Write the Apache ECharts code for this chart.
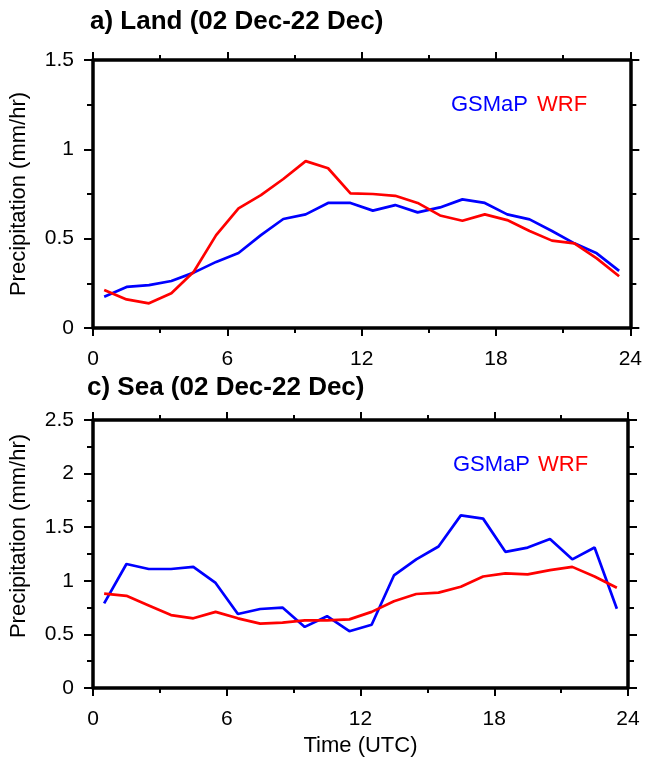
<!DOCTYPE html>
<html><head><meta charset="utf-8">
<script src="https://cdn.jsdelivr.net/npm/echarts@6/dist/echarts.min.js"></script>
<style>html,body{margin:0;padding:0;background:#fff}#c{width:645px;height:767px}</style>
</head><body><div id="c"></div>
<script>
const hours = [0.5,1.5,2.5,3.5,4.5,5.5,6.5,7.5,8.5,9.5,10.5,11.5,12.5,13.5,14.5,15.5,16.5,17.5,18.5,19.5,20.5,21.5,22.5,23.5];
const landGSMaP = [0.175,0.23,0.24,0.263,0.31,0.37,0.42,0.52,0.61,0.636,0.70,0.70,0.657,0.688,0.647,0.675,0.72,0.70,0.636,0.608,0.543,0.474,0.418,0.32];
const landWRF = [0.213,0.16,0.138,0.194,0.315,0.52,0.67,0.744,0.834,0.934,0.894,0.754,0.75,0.74,0.70,0.63,0.60,0.636,0.604,0.543,0.489,0.474,0.39,0.29];
const seaGSMaP = [0.79,1.157,1.11,1.11,1.13,0.98,0.69,0.737,0.75,0.57,0.67,0.53,0.59,1.05,1.20,1.32,1.61,1.58,1.27,1.31,1.39,1.20,1.31,0.74];
const seaWRF = [0.88,0.86,0.77,0.68,0.65,0.71,0.65,0.60,0.61,0.63,0.63,0.64,0.71,0.81,0.877,0.89,0.945,1.04,1.07,1.06,1.10,1.13,1.04,0.935];
const titles = ['a) Land (02 Dec-22 Dec)','c) Sea (02 Dec-22 Dec)'];
const seriesNames = ['GSMaP','WRF'];
const yLabel = 'Precipitation (mm/hr)';
const xLabel = 'Time (UTC)';

const FONT = 'Liberation Sans';
const chart = echarts.init(document.getElementById('c'), null, {renderer:'canvas'});
const axLine = {show:true, onZero:false, lineStyle:{color:'#000', width:3.5}};
const majTick = len => ({show:true, inside:false, length:len, lineStyle:{color:'#000', width:2}});
const minTick = len => ({show:true, splitNumber:2, length:len, lineStyle:{color:'#000', width:2}});
function xAxes(gi, showName){
  return [{
    type:'value', gridIndex:gi, min:0, max:24, interval:6, position:'bottom',
    axisLine:axLine, axisTick:majTick(8), minorTick:minTick(5),
    splitLine:{show:false}, minorSplitLine:{show:false},
    axisLabel:{show:true, fontFamily:FONT, fontSize:21, color:'#000', margin:21},
    name: showName ? xLabel : '', nameLocation:'middle', nameGap:47,
    nameTextStyle:{fontFamily:FONT, fontSize:22, color:'#000'}
  },{
    type:'value', gridIndex:gi, min:0, max:24, interval:6, position:'top',
    axisLine:axLine, axisTick:majTick(8), minorTick:minTick(5),
    splitLine:{show:false}, minorSplitLine:{show:false}, axisLabel:{show:false}
  }];
}
function yAxes(gi, max, pad){
  return [{
    type:'value', gridIndex:gi, min:0, max:max, interval:0.5, position:'left',
    axisLine:axLine, axisTick:majTick(9), minorTick:minTick(6),
    splitLine:{show:false}, minorSplitLine:{show:false},
    axisLabel:{show:true, fontFamily:FONT, fontSize:21, color:'#000', margin:19},
    name: yLabel, nameLocation:'middle', nameGap:63, nameRotate:90,
    nameTextStyle:{fontFamily:FONT, fontSize:22, color:'#000', padding:pad}
  },{
    type:'value', gridIndex:gi, min:0, max:max, interval:0.5, position:'right',
    axisLine:axLine, axisTick:majTick(9), minorTick:minTick(6),
    splitLine:{show:false}, minorSplitLine:{show:false}, axisLabel:{show:false}
  }];
}
function series(xi, yi, name, data, color){
  return {type:'line', name, xAxisIndex:xi, yAxisIndex:yi, data:hours.map((h,i)=>[h,data[i]]),
    showSymbol:false, symbol:'none', lineStyle:{color, width:2.7}, itemStyle:{color}, animation:false, silent:true};
}
function txt(s, x, y, color, font){
  return {type:'text', x, y, style:{text:s, fill:color, font, verticalAlign:'middle', align:'left'}};
}
const TF = 'bold 26px "Liberation Sans"';
const LF = '22px "Liberation Sans"';
chart.setOption({
  backgroundColor:'#fff',
  animation:false,
  grid:[
    {left:92, top:60, width:540, height:268},
    {left:90, top:420, width:538, height:268}
  ],
  xAxis:[...xAxes(0,false), ...xAxes(1,true)],
  yAxis:[...yAxes(0,1.5,[0,0,0,0]), ...yAxes(1,2.5,[0,0,0,36])],
  series:[
    series(0,0,seriesNames[0],landGSMaP,'#0000ff'),
    series(0,0,seriesNames[1],landWRF,'#ff0000'),
    series(2,2,seriesNames[0],seaGSMaP,'#0000ff'),
    series(2,2,seriesNames[1],seaWRF,'#ff0000')
  ],
  graphic:[
    txt(titles[0], 90, 22, '#000', TF),
    txt(titles[1], 87, 388, '#000', TF),
    txt(seriesNames[0], 451, 105, '#0000ff', LF),
    txt(seriesNames[1], 537, 105, '#ff0000', LF),
    txt(seriesNames[0], 453, 465, '#0000ff', LF),
    txt(seriesNames[1], 538, 465, '#ff0000', LF)
  ]
});
</script></body></html>
